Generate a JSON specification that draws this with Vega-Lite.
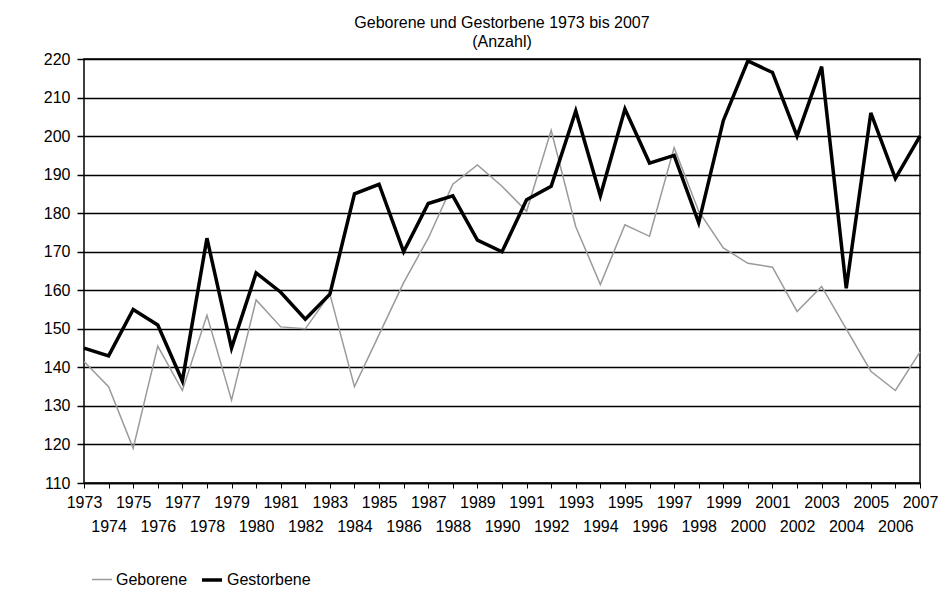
{
  "$schema": "https://vega.github.io/schema/vega-lite/v6.json",
  "width": 836,
  "height": 424,
  "autosize": {"type": "none"},
  "padding": {"left": 84, "top": 59, "right": 32, "bottom": 124},
  "background": "white",
  "title": {
    "text": ["Geborene und Gestorbene 1973 bis 2007", "(Anzahl)"],
    "fontSize": 16,
    "font": "Liberation Sans",
    "fontWeight": "normal",
    "color": "#000000",
    "lineHeight": 19,
    "offset": 1,
    "anchor": "middle"
  },
  "data": {
    "values": [
      {"year": 1973, "series": "Geborene", "value": 141.5},
      {"year": 1974, "series": "Geborene", "value": 135},
      {"year": 1975, "series": "Geborene", "value": 119},
      {"year": 1976, "series": "Geborene", "value": 145.5},
      {"year": 1977, "series": "Geborene", "value": 134},
      {"year": 1978, "series": "Geborene", "value": 153.5},
      {"year": 1979, "series": "Geborene", "value": 131.5},
      {"year": 1980, "series": "Geborene", "value": 157.5},
      {"year": 1981, "series": "Geborene", "value": 150.5},
      {"year": 1982, "series": "Geborene", "value": 150},
      {"year": 1983, "series": "Geborene", "value": 159},
      {"year": 1984, "series": "Geborene", "value": 135},
      {"year": 1985, "series": "Geborene", "value": 148.5},
      {"year": 1986, "series": "Geborene", "value": 162},
      {"year": 1987, "series": "Geborene", "value": 173.5},
      {"year": 1988, "series": "Geborene", "value": 187.5},
      {"year": 1989, "series": "Geborene", "value": 192.5},
      {"year": 1990, "series": "Geborene", "value": 187},
      {"year": 1991, "series": "Geborene", "value": 180.5},
      {"year": 1992, "series": "Geborene", "value": 201.5},
      {"year": 1993, "series": "Geborene", "value": 176.5},
      {"year": 1994, "series": "Geborene", "value": 161.5},
      {"year": 1995, "series": "Geborene", "value": 177},
      {"year": 1996, "series": "Geborene", "value": 174},
      {"year": 1997, "series": "Geborene", "value": 197},
      {"year": 1998, "series": "Geborene", "value": 180.5},
      {"year": 1999, "series": "Geborene", "value": 171},
      {"year": 2000, "series": "Geborene", "value": 167},
      {"year": 2001, "series": "Geborene", "value": 166},
      {"year": 2002, "series": "Geborene", "value": 154.5},
      {"year": 2003, "series": "Geborene", "value": 161},
      {"year": 2004, "series": "Geborene", "value": 150},
      {"year": 2005, "series": "Geborene", "value": 139},
      {"year": 2006, "series": "Geborene", "value": 134},
      {"year": 2007, "series": "Geborene", "value": 144},
      {"year": 1973, "series": "Gestorbene", "value": 145},
      {"year": 1974, "series": "Gestorbene", "value": 143},
      {"year": 1975, "series": "Gestorbene", "value": 155},
      {"year": 1976, "series": "Gestorbene", "value": 151},
      {"year": 1977, "series": "Gestorbene", "value": 136.5},
      {"year": 1978, "series": "Gestorbene", "value": 173.5},
      {"year": 1979, "series": "Gestorbene", "value": 145},
      {"year": 1980, "series": "Gestorbene", "value": 164.5},
      {"year": 1981, "series": "Gestorbene", "value": 159.5},
      {"year": 1982, "series": "Gestorbene", "value": 152.5},
      {"year": 1983, "series": "Gestorbene", "value": 159},
      {"year": 1984, "series": "Gestorbene", "value": 185},
      {"year": 1985, "series": "Gestorbene", "value": 187.5},
      {"year": 1986, "series": "Gestorbene", "value": 170},
      {"year": 1987, "series": "Gestorbene", "value": 182.5},
      {"year": 1988, "series": "Gestorbene", "value": 184.5},
      {"year": 1989, "series": "Gestorbene", "value": 173},
      {"year": 1990, "series": "Gestorbene", "value": 170},
      {"year": 1991, "series": "Gestorbene", "value": 183.5},
      {"year": 1992, "series": "Gestorbene", "value": 187},
      {"year": 1993, "series": "Gestorbene", "value": 206.5},
      {"year": 1994, "series": "Gestorbene", "value": 184.5},
      {"year": 1995, "series": "Gestorbene", "value": 207},
      {"year": 1996, "series": "Gestorbene", "value": 193},
      {"year": 1997, "series": "Gestorbene", "value": 195},
      {"year": 1998, "series": "Gestorbene", "value": 177.5},
      {"year": 1999, "series": "Gestorbene", "value": 204},
      {"year": 2000, "series": "Gestorbene", "value": 219.5},
      {"year": 2001, "series": "Gestorbene", "value": 216.5},
      {"year": 2002, "series": "Gestorbene", "value": 200},
      {"year": 2003, "series": "Gestorbene", "value": 218},
      {"year": 2004, "series": "Gestorbene", "value": 160.5},
      {"year": 2005, "series": "Gestorbene", "value": 206},
      {"year": 2006, "series": "Gestorbene", "value": 189},
      {"year": 2007, "series": "Gestorbene", "value": 200}
    ]
  },
  "mark": {"type": "line", "strokeJoin": "miter", "clip": false},
  "encoding": {
    "x": {
      "field": "year",
      "type": "ordinal",
      "scale": {"type": "point", "padding": 0},
      "axis": {
        "title": null,
        "labelAngle": 0,
        "labelOverlap": false,
        "labelBound": false,
        "labelFlush": false,
        "labelFontSize": 16,
        "labelFont": "Liberation Sans",
        "labelColor": "#000000",
        "labelPadding": 6,
        "labelBaseline": "top",
        "labelLineHeight": 24,
        "labelExpr": "datum.value % 2 == 1 ? datum.label : ['', datum.label]",
        "tickSize": 5,
        "tickColor": "#000000",
        "tickWidth": 1,
        "domain": true,
        "domainColor": "#000000",
        "domainWidth": 1.5,
        "grid": false
      }
    },
    "y": {
      "field": "value",
      "type": "quantitative",
      "scale": {"domain": [110, 220], "nice": false, "zero": false},
      "axis": {
        "title": null,
        "values": [110, 120, 130, 140, 150, 160, 170, 180, 190, 200, 210, 220],
        "labelFontSize": 16,
        "labelFont": "Liberation Sans",
        "labelColor": "#000000",
        "labelPadding": 7,
        "tickSize": 7,
        "tickColor": "#000000",
        "tickWidth": 1.5,
        "domain": false,
        "grid": true,
        "gridColor": "#000000",
        "gridWidth": 1.5,
        "gridOpacity": 1
      }
    },
    "color": {
      "field": "series",
      "type": "nominal",
      "scale": {"domain": ["Geborene", "Gestorbene"], "range": ["#9a9a9a", "#000000"]},
      "legend": {
        "title": null,
        "orient": "none",
        "legendX": 7,
        "legendY": 509,
        "direction": "horizontal",
        "symbolType": "stroke",
        "symbolSize": 400,
        "labelFontSize": 16,
        "labelFont": "Liberation Sans",
        "labelColor": "#000000",
        "labelOffset": 3,
        "columnPadding": 7
      }
    },
    "strokeWidth": {
      "field": "series",
      "type": "nominal",
      "scale": {"domain": ["Geborene", "Gestorbene"], "range": [1.5, 3.5]},
      "legend": {
        "title": null,
        "orient": "none",
        "legendX": 7,
        "legendY": 509,
        "direction": "horizontal",
        "symbolType": "stroke",
        "symbolSize": 400,
        "labelFontSize": 16,
        "labelFont": "Liberation Sans",
        "labelColor": "#000000",
        "labelOffset": 3,
        "columnPadding": 7
      }
    }
  },
  "config": {
    "view": {"stroke": "#000000", "strokeWidth": 1.5},
    "font": "Liberation Sans"
  }
}
